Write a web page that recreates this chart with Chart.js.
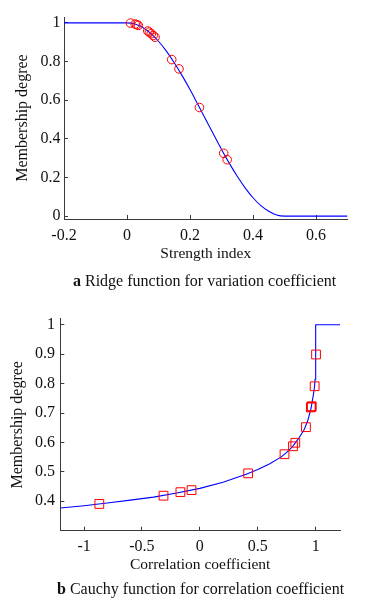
<!DOCTYPE html>
<html><head><meta charset="utf-8">
<script src="https://cdn.jsdelivr.net/npm/chart.js@4/dist/chart.umd.min.js"></script>
<style>
html,body{margin:0;padding:0;background:#fff;}
body{width:365px;height:601px;position:relative;overflow:hidden;font-family:"Liberation Serif","Times New Roman",serif;}
.wrap{position:absolute;left:0;width:365px;}
#wa{top:0;height:300px;}
#wb{top:300px;height:301px;}
.cap{position:absolute;white-space:nowrap;font-size:16px;line-height:18px;color:#111;}
</style></head><body>
<div class="wrap" id="wa"><canvas id="ca"></canvas></div>
<div class="wrap" id="wb"><canvas id="cb"></canvas></div>
<div class="cap" style="left:73px;top:272px;"><b>a</b> Ridge function for variation coefficient</div>
<div class="cap" style="left:57px;top:580px;"><b>b</b> Cauchy function for correlation coefficient</div>
<script>
// ---- Chart a: Ridge function ----
const curveAX = [-0.2, 0, 0.025, 0.05, 0.075, 0.1, 0.125, 0.15, 0.175, 0.2, 0.225, 0.25, 0.275, 0.3, 0.325, 0.35, 0.375, 0.4, 0.425, 0.45, 0.475, 0.5, 0.7];
const curveAY = [1, 1, 0.994, 0.976, 0.946, 0.905, 0.854, 0.794, 0.727, 0.655, 0.578, 0.5, 0.422, 0.345, 0.273, 0.206, 0.146, 0.095, 0.054, 0.025, 0.006, 0, 0];
const pointsAX = [0.011, 0.026, 0.031, 0.036, 0.066, 0.071, 0.077, 0.083, 0.089, 0.142, 0.165, 0.23, 0.307, 0.318];
const pointsAY = [0.999, 0.994, 0.991, 0.987, 0.958, 0.952, 0.944, 0.935, 0.926, 0.81, 0.762, 0.562, 0.325, 0.292];
const xTicksA = [-0.2, 0, 0.2, 0.4, 0.6];
const xTickLabelsA = ['-0.2', '0', '0.2', '0.4', '0.6'];
const yTicksA = [0, 0.2, 0.4, 0.6, 0.8, 1];
const yTickLabelsA = ['0', '0.2', '0.4', '0.6', '0.8', '1'];

// ---- Chart b: Cauchy function ----
const curveBX = [-1.205, -1.0, -0.8, -0.6, -0.4, -0.2, 0, 0.2, 0.4, 0.5, 0.6, 0.7, 0.75, 0.8, 0.85, 0.9, 0.93, 0.96, 0.98, 0.99, 0.995, 1.0, 1.0, 1.21];
const curveBY = [0.377, 0.385, 0.394, 0.404, 0.414, 0.428, 0.444, 0.465, 0.492, 0.508, 0.527, 0.550, 0.566, 0.586, 0.612, 0.643, 0.672, 0.716, 0.762, 0.79, 0.815, 0.835, 1.0, 1.0];
const pointsBX = [-0.868, -0.314, -0.168, -0.072, 0.417, 0.731, 0.804, 0.824, 0.916, 0.958, 0.962, 0.966, 0.991, 1.003];
const pointsBY = [0.391, 0.419, 0.431, 0.438, 0.495, 0.56, 0.587, 0.599, 0.652, 0.719, 0.721, 0.723, 0.791, 0.899];
const xTicksB = [-1, -0.5, 0, 0.5, 1];
const xTickLabelsB = ['-1', '-0.5', '0', '0.5', '1'];
const yTicksB = [0.4, 0.5, 0.6, 0.7, 0.8, 0.9, 1];
const yTickLabelsB = ['0.4', '0.5', '0.6', '0.7', '0.8', '0.9', '1'];

const FAM = "'Liberation Serif', 'Times New Roman', serif";
const AXC = '#3a3a3a';
const zip = (xs, ys) => xs.map((x, i) => ({x: x, y: ys[i]}));

function makeChart(id, c) {
  return new Chart(document.getElementById(id), {
    type: 'scatter',
    data: {
      datasets: [
        {data: zip(c.cx, c.cy), showLine: true, borderColor: '#0000ff', borderWidth: 1.1,
         pointRadius: 0, fill: false, tension: 0, cubicInterpolationMode: c.mono ? 'monotone' : 'default', order: 2},
        {data: zip(c.px, c.py), showLine: false, pointStyle: c.style, pointRadius: c.pr,
         borderColor: '#ff0000', backgroundColor: 'rgba(0,0,0,0)', borderWidth: 1, order: 1}
      ]
    },
    options: {
      responsive: true, maintainAspectRatio: false, animation: false, events: [],
      layout: {padding: {top: c.padTop, right: c.padRight, left: 0, bottom: 0}},
      plugins: {legend: {display: false}, tooltip: {enabled: false}},
      scales: {
        x: {
          type: 'linear', min: c.xmin, max: c.xmax,
          afterBuildTicks: s => { s.ticks = c.xt.map(v => ({value: v})); },
          afterFit: s => { s.height = c.xH; },
          ticks: {callback: (v, i) => c.xl[i], padding: c.xPad, font: {family: FAM, size: 16}, color: '#111', maxRotation: 0, autoSkip: false},
          grid: {drawOnChartArea: false, drawTicks: true, tickLength: -4, color: AXC, tickWidth: 1},
          border: {display: true, color: AXC, width: 1},
          title: {display: true, text: c.xTitle, font: {family: FAM, size: 15.5}, color: '#111', padding: {top: 0, bottom: c.xTitlePad}}
        },
        y: {
          type: 'linear', min: c.ymin, max: c.ymax,
          afterBuildTicks: s => { s.ticks = c.yt.map(v => ({value: v})); },
          afterFit: s => { s.width = c.yW; },
          ticks: {callback: (v, i) => c.yl[i], padding: c.yPad, font: {family: FAM, size: 16}, color: '#111', autoSkip: false},
          grid: {drawOnChartArea: false, drawTicks: true, tickLength: -4, color: AXC, tickWidth: 1},
          border: {display: true, color: AXC, width: 1},
          title: {display: true, text: 'Membership degree', font: {family: FAM, size: 16}, color: '#111', padding: {top: c.yTitlePad, bottom: 0}}
        }
      }
    }
  });
}

makeChart('ca', {
  cx: curveAX, cy: curveAY, px: pointsAX, py: pointsAY, mono: true, style: 'circle', pr: 4.3,
  xmin: -0.2, xmax: 0.7, ymin: -0.015, ymax: 1.03,
  xt: xTicksA, xl: xTickLabelsA, yt: yTicksA, yl: yTickLabelsA,
  padTop: 4.85, padRight: 17.5, xH: 81, yW: 64,
  xPad: 11.4, yPad: 7.5, xTitle: 'Strength index', xTitlePad: 36.7, yTitlePad: 12.9
});

makeChart('cb', {
  cx: curveBX, cy: curveBY, px: pointsBX, py: pointsBY, mono: false, style: 'rect', pr: 6.2,
  xmin: -1.205, xmax: 1.21, ymin: 0.3, ymax: 1.02,
  xt: xTicksB, xl: xTickLabelsB, yt: yTicksB, yl: yTickLabelsB,
  padTop: 18, padRight: 25, xH: 70.3, yW: 60.3,
  xPad: 10.7, yPad: 9.3, xTitle: 'Correlation coefficient', xTitlePad: 26.7, yTitlePad: 8.4
});
</script>
</body></html>
